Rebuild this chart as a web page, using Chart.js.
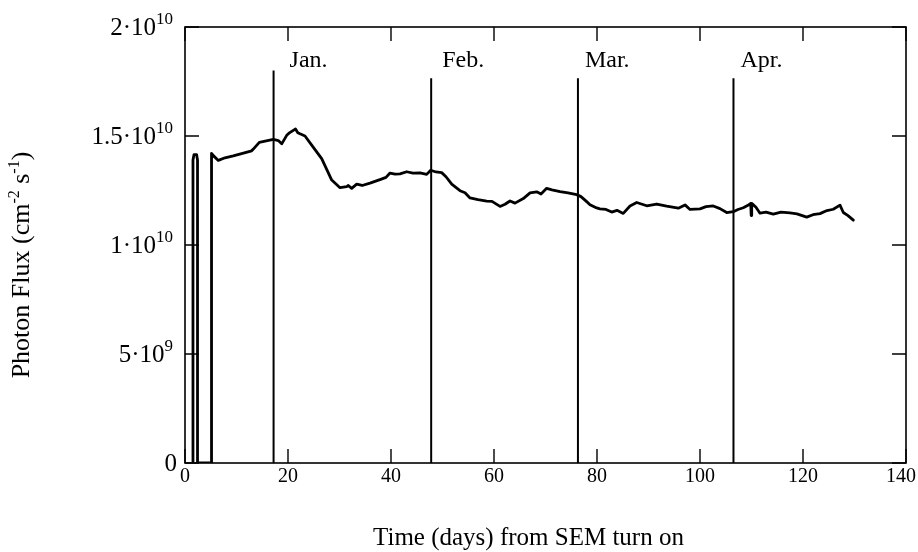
<!DOCTYPE html>
<html>
<head>
<meta charset="utf-8">
<script src="https://cdn.jsdelivr.net/npm/chart.js@4/dist/chart.umd.min.js"></script>
<style>
  html, body { margin: 0; padding: 0; background: #fff; }
  #wrap { width: 918px; height: 552px; position: relative; }
</style>
</head>
<body>
<div id="wrap"><canvas id="c" width="918" height="552"></canvas></div>
<script>
// Time since SEM turn-on (days) and photon flux (units of 1e9 cm^-2 s^-1)
const days = [
  1.55, 1.55, 1.75, 2.25, 2.43, 2.43, 5.15, 5.15, 5.5, 6.47,
  7.77, 9.38, 12.95, 13.27, 14.43, 17.15, 18.12, 18.78, 19.75, 20.19,
  21.03, 21.46, 21.9, 22.33, 23.3, 24.6, 26.54, 28.49, 30.1, 31.4,
  31.71, 32.37, 33.34, 34.4, 35.92, 37.86, 39.03, 39.81, 40.78, 41.75,
  43.05, 44.27, 45.63, 46.93, 47.71, 48.74, 49.84, 50.68, 51.79, 53.4,
  54.37, 55.34, 56.89, 58.58, 59.61, 61.17, 62.14, 63.11, 64.08, 65.69,
  67.0, 68.29, 69.13, 70.23, 71.26, 72.82, 74.37, 76.06, 76.89, 78.0,
  78.64, 79.94, 80.58, 81.75, 82.85, 83.88, 85.1, 86.41, 87.71, 89.65,
  91.59, 93.53, 95.79, 97.09, 98.06, 100.0, 101.17, 102.58, 103.88, 105.18,
  106.47, 107.38, 108.41, 109.32, 109.85, 109.94, 110.04, 110.87, 111.65, 112.82,
  114.23, 115.73, 117.48, 118.83, 120.72, 121.94, 123.3, 124.66, 125.88, 127.18,
  127.83, 128.74, 129.77
];
const fluxE9 = [
  0, 13.9, 14.15, 14.15, 13.9, 0, 0, 14.2, 14.1, 13.88,
  14.0, 14.09, 14.32, 14.40, 14.71, 14.84, 14.79, 14.64, 15.03, 15.13,
  15.26, 15.32, 15.15, 15.10, 15.0, 14.58, 13.96, 12.98, 12.63, 12.68,
  12.73, 12.60, 12.79, 12.73, 12.84, 13.0, 13.10, 13.30, 13.25, 13.26,
  13.36, 13.30, 13.31, 13.24, 13.43, 13.35, 13.32, 13.13, 12.79, 12.49,
  12.40, 12.16, 12.08, 12.01, 12.0, 11.77, 11.87, 12.02, 11.92, 12.13,
  12.39, 12.44, 12.34, 12.6, 12.53, 12.45, 12.39, 12.31, 12.22, 11.99,
  11.85, 11.70, 11.66, 11.63, 11.51, 11.59, 11.45, 11.79, 11.95, 11.80,
  11.88, 11.78, 11.69, 11.84, 11.63, 11.66, 11.76, 11.79, 11.67, 11.49,
  11.53, 11.63, 11.71, 11.82, 11.91, 11.35, 11.91, 11.73, 11.46, 11.51,
  11.42, 11.51, 11.47, 11.43, 11.28, 11.39, 11.44, 11.58, 11.64, 11.83,
  11.49, 11.35, 11.14
];

// Start-of-month markers
const monthNames = ['Jan.', 'Feb.', 'Mar.', 'Apr.'];
const monthDays = [17.2, 47.8, 76.3, 106.5];
const monthLineTopE9 = [18.0, 17.65, 17.65, 17.65];

// Axis ticks
const xTickValues = [0, 20, 40, 60, 80, 100, 120, 140];
const xTickLabels = ['0', '20', '40', '60', '80', '100', '120', '140'];
const yTickValues = [0, 5, 10, 15, 20];
const yTickBase = ['0', '5\u00B710', '1\u00B710', '1.5\u00B710', '2\u00B710'];
const yTickExp = ['', '9', '10', '10', '10'];

const SERIF = '"Liberation Serif", "Times New Roman", serif';
const TICK_LEN = 14;
// gap between each month line and its label, in pixels
const MONTH_LABEL_GAP = [16, 11, 7, 7];

const monthDatasets = monthDays.map((d, i) => ({
  data: [{ x: d, y: 0 }, { x: d, y: monthLineTopE9[i] }],
  borderColor: '#000',
  borderWidth: 2,
  pointRadius: 0,
  fill: false
}));

// Frame, inward ticks, tick labels, titles and month labels
const decorations = {
  id: 'decorations',
  afterDatasetsDraw(chart) {
    const { ctx, chartArea: a, scales: { x, y } } = chart;
    const W = chart.width;
    ctx.save();
    ctx.strokeStyle = '#000';
    ctx.fillStyle = '#000';
    ctx.lineWidth = 1.6;
    ctx.strokeRect(a.left, a.top, a.right - a.left, a.bottom - a.top);

    ctx.lineWidth = 1.4;
    ctx.beginPath();
    xTickValues.forEach(v => {
      const px = x.getPixelForValue(v);
      ctx.moveTo(px, a.bottom); ctx.lineTo(px, a.bottom - TICK_LEN);
      ctx.moveTo(px, a.top); ctx.lineTo(px, a.top + TICK_LEN);
    });
    yTickValues.forEach(v => {
      const py = y.getPixelForValue(v);
      ctx.moveTo(a.left, py); ctx.lineTo(a.left + TICK_LEN, py);
      ctx.moveTo(a.right, py); ctx.lineTo(a.right - TICK_LEN, py);
    });
    ctx.stroke();

    // x tick labels, kept inside the canvas
    ctx.font = '20px ' + SERIF;
    ctx.textAlign = 'center';
    ctx.textBaseline = 'middle';
    xTickValues.forEach((v, i) => {
      const w = ctx.measureText(xTickLabels[i]).width;
      const cx = Math.min(x.getPixelForValue(v), W - 2 - w / 2);
      ctx.fillText(xTickLabels[i], cx, a.bottom + 14);
    });

    // y tick labels with powers of ten
    const right = a.left - 12;
    ctx.textBaseline = 'alphabetic';
    ctx.textAlign = 'left';
    yTickValues.forEach((v, i) => {
      const py = y.getPixelForValue(v);
      ctx.font = '17px ' + SERIF;
      const ew = yTickExp[i] ? ctx.measureText(yTickExp[i]).width : 0;
      ctx.font = '25px ' + SERIF;
      const bw = ctx.measureText(yTickBase[i]).width;
      const x0 = (yTickExp[i] ? right : right + 4) - ew - bw;
      ctx.fillText(yTickBase[i], x0, py + 8);
      if (yTickExp[i]) {
        ctx.font = '17px ' + SERIF;
        ctx.fillText(yTickExp[i], x0 + bw, py - 3);
      }
    });

    // month labels
    ctx.font = '24px ' + SERIF;
    monthNames.forEach((m, i) => {
      ctx.fillText(m, x.getPixelForValue(monthDays[i]) + MONTH_LABEL_GAP[i], a.top + 40);
    });

    // x axis title
    ctx.font = '25px ' + SERIF;
    ctx.textAlign = 'center';
    ctx.fillText('Time (days) from SEM turn on', (a.left + a.right) / 2 - 17, 545);

    // y axis title, rotated, with superscripts
    const parts = [
      ['Photon Flux (cm', 26, 0], ['-2', 16, -10], [' s', 26, 0], ['-1', 16, -10], [')', 26, 0]
    ];
    let total = 0;
    parts.forEach(p => { ctx.font = p[1] + 'px ' + SERIF; total += ctx.measureText(p[0]).width; });
    ctx.translate(29, 265);
    ctx.rotate(-Math.PI / 2);
    ctx.textAlign = 'left';
    let cx = -total / 2;
    parts.forEach(p => {
      ctx.font = p[1] + 'px ' + SERIF;
      ctx.fillText(p[0], cx, p[2]);
      cx += ctx.measureText(p[0]).width;
    });
    ctx.restore();
  }
};

new Chart(document.getElementById('c'), {
  type: 'line',
  data: {
    datasets: [
      {
        data: days.map((d, i) => ({ x: d, y: fluxE9[i] })),
        borderColor: '#000',
        borderWidth: 2.8,
        borderJoinStyle: 'round',
        borderCapStyle: 'round',
        pointRadius: 0,
        tension: 0,
        fill: false
      },
      ...monthDatasets
    ]
  },
  options: {
    responsive: false,
    animation: false,
    devicePixelRatio: 1,
    layout: { padding: { left: 185, right: 12, top: 27, bottom: 89 } },
    plugins: { legend: { display: false }, tooltip: { enabled: false } },
    scales: {
      x: { type: 'linear', min: 0, max: 140, display: false },
      y: { type: 'linear', min: 0, max: 20, display: false }
    }
  },
  plugins: [decorations]
});
</script>
</body>
</html>
